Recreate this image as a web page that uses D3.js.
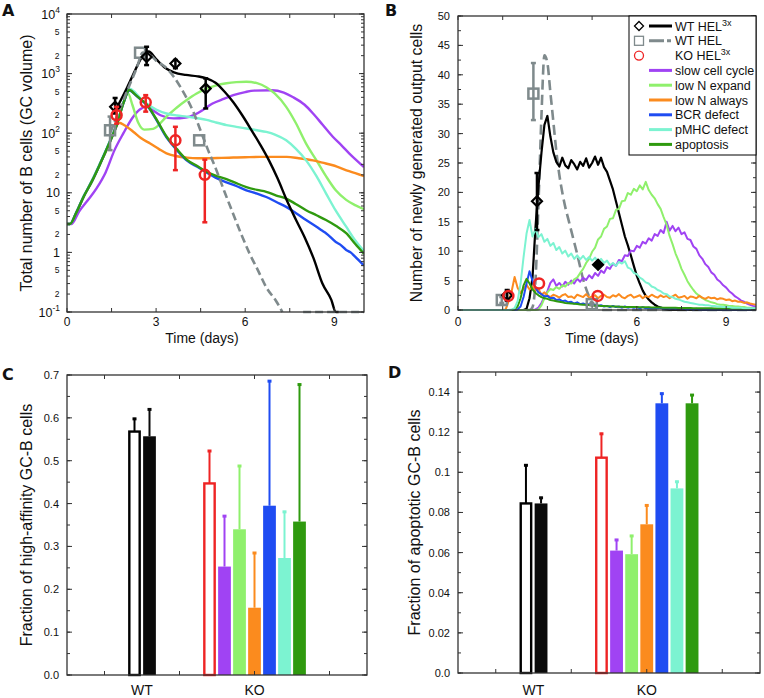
<!DOCTYPE html>
<html><head><meta charset="utf-8">
<script src="https://cdn.jsdelivr.net/npm/d3@7"></script>
<style>
body{margin:0;background:#fff;}
svg{display:block;font-family:"Liberation Sans",Arial,sans-serif;}
</style></head><body>
<svg id="c" width="764" height="698"></svg>
<script>
// ---------------- DATA ----------------
const seriesNames = ["slow cell cycle","low N expand","low N always","BCR defect","pMHC defect","apoptosis"];

// Panel A: total number of B cells (t in days, value)
const aPurple = [[0,3],[0.15,3],[0.4,4.8],[0.7,7.5],[1.0,12],[1.3,22],[1.6,52],[1.9,100],[2.2,180],[2.45,250],[2.68,277],[2.9,240],[3.15,200],[3.6,177],[4.0,183],[4.3,205],[4.6,250],[4.9,315],[5.3,380],[5.6,435],[6.0,490],[6.3,518],[6.9,525],[7.3,480],[7.6,405],[8.0,300],[8.3,210],[8.6,140],[8.95,87],[9.25,62],[9.5,46],[9.75,35],[10,27]];
const aGreen = [[0,3],[0.1,3],[0.3,4.5],[0.56,8.6],[0.85,16],[1.12,31],[1.4,65],[1.68,144],[1.9,320],[2.05,470],[2.2,300],[2.4,150],[2.6,115],[2.9,118],[3.35,190],[3.7,270],[4.03,360],[4.35,460],[4.7,560],[5.0,630],[5.37,690],[5.7,720],[6.04,730],[6.4,690],[6.71,590],[7.0,460],[7.38,277],[7.7,150],[8.05,67],[8.4,35],[8.72,19],[9.05,11],[9.4,7.6],[9.7,6.2],[10,5.3]];
const aOrange = [[0,3],[0.1,3],[0.3,4.5],[0.56,8.6],[0.85,16],[1.12,31],[1.4,62],[1.6,110],[1.75,150],[1.95,135],[2.24,105],[2.5,82],[2.8,67],[3.1,54],[3.35,46],[3.7,41],[4.03,39],[4.4,38],[4.7,38],[5.2,38.5],[5.6,39],[6.0,39.5],[6.5,40],[7.0,40],[7.4,40],[7.8,38],[8.28,35],[8.6,32],[8.95,29],[9.5,23],[10,19]];
const aBlue = [[0,3],[0.1,3],[0.3,4.5],[0.56,8.6],[0.85,16],[1.12,31],[1.4,64],[1.68,140],[1.9,320],[2.1,520],[2.3,440],[2.5,360],[2.68,300],[3.0,170],[3.35,85],[3.7,52],[4.03,35],[4.4,27],[4.7,22],[5.0,18],[5.37,15],[5.7,13],[6.04,11],[6.4,9.7],[6.71,8.5],[7.05,7],[7.38,5.8],[7.7,4.6],[8.05,3.5],[8.4,2.7],[8.6,2.3],[8.72,2.1],[9.05,1.5],[9.2,1.35],[9.4,1.1],[9.55,1.0],[9.7,0.85],[10,0.6]];
const aAqua = [[0,3],[0.1,3],[0.3,4.6],[0.56,8.8],[0.85,16.5],[1.12,32],[1.4,66],[1.68,145],[1.9,330],[2.1,560],[2.3,480],[2.5,370],[2.68,316],[3.0,250],[3.35,214],[3.7,198],[4.03,190],[4.4,178],[4.7,167],[5.0,152],[5.37,137],[5.7,128],[6.04,120],[6.4,112],[6.71,105],[7.0,95],[7.38,76],[7.7,55],[8.05,35],[8.4,19],[8.72,9.8],[9.05,5],[9.4,2.7],[9.7,1.6],[10,1.05]];
const aDGreen = [[0,3],[0.1,3],[0.3,4.5],[0.56,8.6],[0.85,16],[1.12,31],[1.4,64],[1.68,140],[1.9,320],[2.1,530],[2.3,445],[2.5,365],[2.68,305],[3.0,175],[3.35,88],[3.7,54],[4.03,36],[4.4,28],[4.7,22.5],[5.0,19.5],[5.37,17],[5.7,14.5],[6.04,12.5],[6.4,11.2],[6.71,10.4],[7.05,9],[7.38,8],[7.7,6.5],[8.05,5.1],[8.4,4.2],[8.72,3.5],[9.05,2.8],[9.4,2.1],[9.7,1.4],[10,0.95]];
const aWT3x = [[1.65,250],[2.0,550],[2.3,1150],[2.55,2000],[2.75,2350],[3.0,1750],[3.3,1250],[3.6,1050],[4.0,950],[4.4,900],[4.7,830],[5.0,700],[5.3,500],[5.6,330],[5.9,200],[6.2,115],[6.5,65],[6.8,35],[7.1,17],[7.4,7.5],[7.7,3.6],[8.0,1.8],[8.3,0.8],[8.6,0.3],[8.9,0.16],[9.05,0.1],[9.15,0.1]];
const aWT = [[1.45,100],[1.8,270],[2.1,630],[2.35,1250],[2.55,2250],[2.75,2150],[3.0,1650],[3.3,1300],[3.6,880],[3.85,560],[4.05,370],[4.25,230],[4.47,120],[4.75,52],[5.03,24],[5.3,10.5],[5.59,4.5],[5.87,2.0],[6.15,0.95],[6.43,0.5],[6.71,0.26],[7.05,0.15],[7.25,0.1],[7.3,null],[7.95,0.1],[10,0.1]];

// Panel A experimental points
const wtA_t = [1.62,2.68,3.65,4.67], wtA_v = [277,1900,1480,560], wtA_lo = [214,1390,1230,260], wtA_hi = [390,2820,1690,830];
const helA_t = [1.45,2.46,4.45], helA_v = [112,2240,76], helA_lo = [52,2150,72], helA_hi = [190,2350,80];
const koA_t = [1.67,2.65,3.65,4.64], koA_v = [200,330,76,20], koA_lo = [145,230,24,3.2], koA_hi = [277,435,128,36];

// Panel B: newly generated output cells, sampled every 0.1 day from the start time
const bStart = {purple:2.6, green:2.7, orange:1.6, blue:2.0, aqua:1.8, dgreen:1.9, wt3x:2.3, wt:2.4};
const bPurple = [0.1,0.4,1.2,2.2,3.2,4.6,5.2,4.1,4.6,4.0,4.8,4.3,5.0,4.5,5.3,4.8,5.5,5.1,5.9,5.4,6.3,5.8,6.7,6.3,7.3,7.0,7.9,7.5,8.5,8.3,9.3,9.2,10.1,10.0,10.9,10.6,11.6,11.3,12.2,11.8,12.9,12.6,13.6,13.1,15.0,13.5,14.3,13.4,14.0,12.9,13.2,12.1,11.9,10.8,10.4,9.3,8.7,7.8,7.3,6.4,6.0,5.2,4.8,4.2,3.8,3.2,2.8,2.3,2.0,1.6,1.4,1.1,0.9,0.7,0.6];
const bGreen = [0.1,0.8,2.0,3.0,3.6,3.4,3.9,3.6,4.2,4.0,4.6,4.5,5.2,5.5,6.3,7.0,8.0,8.7,9.9,10.6,12.0,12.5,13.8,14.2,15.5,15.6,17.0,17.2,18.5,18.6,19.9,19.6,20.6,20.2,21.2,20.5,21.8,20.4,19.6,19.0,18.0,17.2,15.8,14.5,12.6,11.2,9.6,8.4,7.0,6.0,4.9,4.1,3.4,2.8,2.4,2.0,1.7,1.5,1.3,1.2,1.0,0.9,0.9,0.8,0.7,0.7,0.6,0.6,0.5,0.5,0.4,0.4,0.3,0.3];
const bOrange = [0.1,1.5,3.2,5.6,3.8,2.9,3.6,4.3,3.5,4.0,3.3,3.6,2.6,3.0,
  2.5,2.2,2.6,2.4,2.1,2.5,2.7,2.2,2.3,2.0, 2.6,2.4,2.2,2.7,2.1,2.3,2.5,2.0,2.4,2.6,
  2.2,2.1,2.5,2.3,2.7,2.2,2.0,2.4,2.6,2.1, 2.3,2.5,2.0,2.4,2.2,2.6,2.3,2.1,2.5,2.2,
  2.4,2.0,2.3,2.6,2.1,2.2,2.4,1.9,2.3,2.2, 2.0,2.4,2.1,1.9,2.2,2.0,2.1,1.8,2.0,1.9,
  1.7,1.8,1.5,1.6,1.4,1.4,1.2,1.3,1.1,1.0, 0.9];
const bBlue = [0.1,0.6,2.2,4.5,6.6,5.0,3.8,3.0,2.7,2.3,2.4,2.0,2.1,1.7,1.8,1.5,1.6,1.3,1.4,1.1,1.3,1.0,1.1,0.9,1.0,0.8,0.9,0.7,0.8,0.6,0.7,0.5,0.7,0.5,0.6,0.4,0.6,0.4,0.5,0.4,0.5,0.3,0.5,0.3,0.4,0.3,0.4,0.3,0.4,0.2,0.3,0.2,0.3,0.2,0.3,0.2,0.2,0.1,0.2,0.1,0.2,0.1,0.1,0.1,0.1,0.1,0.1,0.1,0.1,0.1,0.1,0.1,0.1,0.1,0.1,0.1,0.1,0.1,0.1,0.1,0.1];
const bAqua = [0.1,0.3,1.5,4.5,9,13,15.3,12.5,13.8,12.4,12.9,11.6,12.1,10.9,11.4,10.2,10.7,9.6,10.1,9.1,9.6,8.7,9.3,8.6,9.2,8.5,9.0,8.4,8.9,8.2,8.7,8.0,8.4,7.6,8.0,7.5,8.2,7.9,8.3,7.2,7.0,6.3,6.1,5.5,5.2,4.7,4.5,4.0,3.8,3.4,3.2,2.8,2.7,2.3,2.2,1.9,1.8,1.6,1.4,1.3,1.2,1.1,1.0,0.9,0.9,0.8,0.8,0.7,0.7,0.6,0.6,0.5,0.5,0.5,0.4,0.4,0.4,0.4,0.3,0.3,0.3,0.3,0.3];
const bDGreen = [0.1,0.6,2.0,4.2,5.3,4.5,3.5,2.9,2.5,2.2,2.0,1.9,1.7,1.6,1.5,1.4,1.3,1.2,1.15,1.1,1.05,1.0,0.95,0.9,0.88,0.85,0.8,0.78,0.75,0.7,0.68,0.65,0.63,0.6,0.58,0.56,0.55,0.53,0.52,0.51,0.5,0.5,0.48,0.47,0.46,0.45,0.44,0.43,0.42,0.41,0.4,0.4,0.39,0.38,0.37,0.36,0.35,0.34,0.33,0.32,0.31,0.3,0.3,0.3,0.29,0.28,0.28,0.27,0.26,0.26,0.25,0.25,0.24,0.24,0.23,0.23,0.22,0.22,0.21,0.21,0.2,0.2];
const bWT3x = [0.2,2,5.5,14,21,26.7,31.5,33,29.5,26.8,25.2,24.4,25.9,24.6,24.1,25.5,24.8,23.9,25.2,24.5,25.8,24.2,25.0,26.1,24.7,25.9,24.3,23.5,22,20.5,18.5,16.5,14.5,12.5,11,9.3,7.5,5.8,4.5,3.3,2.4,1.8,1.3,0.9,0.6,0.4,0.2,0.1,0];
const bWT = [0,0.5,5,18,33,43.3,42,37,32,27,23,20,17.5,15.5,13.5,11.5,9.5,7.3,5.2,3.6,2.3,1.3,0.7,0.3,0.1,0];

// Panel B experimental points
const wtB_t = [1.65,2.65,4.7], wtB_v = [2.5,18.5,7.7], wtB_lo = [1.6,13.6,7.7], wtB_hi = [3.4,23.3,7.7];
const helB_t = [1.47,2.53,4.49], helB_v = [1.7,36.8,1.0], helB_lo = [1.2,32.3,0.8], helB_hi = [2.2,42,1.2];
const koB_t = [1.69,2.72,4.69], koB_v = [2.4,4.5,2.4];

// Panels C and D: bars (WT HEL, WT HEL3x, KO HEL3x, then the six model variants)
const barGroup = ["WT","WT","KO","KO","KO","KO","KO","KO","KO"];
const cValue = [0.568,0.557,0.447,0.253,0.340,0.157,0.395,0.273,0.358];
const cUpper = [0.600,0.622,0.525,0.373,0.490,0.287,0.688,0.383,0.680];
const dValue = [0.0845,0.0845,0.1073,0.061,0.0592,0.0741,0.1344,0.092,0.1344];
const dUpper = [0.104,0.0878,0.1197,0.0668,0.0688,0.084,0.1397,0.0958,0.139];
const groupPos = {WT:1, KO:2.5};
const cYTicks = [0,0.1,0.2,0.3,0.4,0.5,0.6,0.7];
const dYTicks = [0,0.02,0.04,0.06,0.08,0.1,0.12,0.14];
const dYLabels = ["0.0","0.02","0.04","0.06","0.08","0.1","0.12","0.14"];
const timeTicks = [0,3,6,9];

// ---------------- STYLE ----------------
const col = {purple:"#a043f3", green:"#8ff06c", orange:"#fb8b1e", blue:"#1f4cf2", aqua:"#7cf3d1", dgreen:"#2f9a0f", red:"#ee2424", grey:"#7f8a8c", black:"#000"};
const seriesCols = [col.purple,col.green,col.orange,col.blue,col.aqua,col.dgreen];
const barFill = ["#fff","#0a0a0a","#fff",col.purple,col.green,col.orange,col.blue,col.aqua,col.dgreen];
const barStroke = ["#000","#0a0a0a",col.red,col.purple,col.green,col.orange,col.blue,col.aqua,col.dgreen];
const barOpen = [true,false,true,false,false,false,false,false,false];

const svg = d3.select("#c");
const FR = "#333";

function box(x0,y0,x1,y1){
  svg.append("rect").attr("x",x0).attr("y",y0).attr("width",x1-x0).attr("height",y1-y0)
    .attr("fill","none").attr("stroke",FR).attr("stroke-width",1.3);
}
function xTicks(vals, sc, yb, yt, len){
  const g = svg.append("g").attr("stroke",FR).attr("stroke-width",1);
  vals.forEach(v=>{const x=sc(v);
    g.append("line").attr("x1",x).attr("x2",x).attr("y1",yb).attr("y2",yb-len);
    g.append("line").attr("x1",x).attr("x2",x).attr("y1",yt).attr("y2",yt+len);});
}
function yTicks(vals, sc, xl, xr, len){
  const g = svg.append("g").attr("stroke",FR).attr("stroke-width",1);
  vals.forEach(v=>{const y=sc(v);
    g.append("line").attr("x1",xl).attr("x2",xl+len).attr("y1",y).attr("y2",y);
    g.append("line").attr("x1",xr).attr("x2",xr-len).attr("y1",y).attr("y2",y);});
}
function label(x,y,txt,opt={}){
  const t = svg.append("text").attr("x",x).attr("y",y).text(txt)
    .attr("font-size",opt.size||11).attr("fill",opt.fill||"#111")
    .attr("text-anchor",opt.anchor||"middle");
  if(opt.rotate) t.attr("transform",`rotate(-90,${x},${y})`);
  if(opt.family) t.attr("font-family",opt.family);
  if(opt.weight) t.attr("font-weight",opt.weight);
  return t;
}
function diamond(s){return `M0,${-s}L${s},0L0,${s}L${-s},0Z`;}
function errBar(x, y1, y2, color, w, cap){
  svg.append("line").attr("x1",x).attr("x2",x).attr("y1",y1).attr("y2",y2)
    .attr("stroke",color).attr("stroke-width",w);
  [y1,y2].forEach(y=>svg.append("line").attr("x1",x-cap).attr("x2",x+cap).attr("y1",y).attr("y2",y)
    .attr("stroke",color).attr("stroke-width",w));
}

// ---------------- PANEL A ----------------
const ax = d3.scaleLinear().domain([0,10]).range([67,364]);
const ay = d3.scaleLog().domain([0.1,1e4]).range([312,14]);
svg.append("clipPath").attr("id","clipA").append("rect").attr("x",67).attr("y",14).attr("width",297).attr("height",300);
const gA = svg.append("g").attr("clip-path","url(#clipA)");
const lineA = d3.line().defined(d=>d[1]!=null).x(d=>ax(d[0])).y(d=>ay(d[1])).curve(d3.curveMonotoneX);
[[aPurple,col.purple],[aGreen,col.green],[aOrange,col.orange],[aAqua,col.aqua],[aBlue,col.blue],[aDGreen,col.dgreen]].forEach(s=>{
  gA.append("path").attr("d",lineA(s[0])).attr("fill","none").attr("stroke",s[1]).attr("stroke-width",2.4);
});
gA.append("path").attr("d",lineA(aWT3x)).attr("fill","none").attr("stroke","#000").attr("stroke-width",2.4);
gA.append("path").attr("d",lineA(aWT)).attr("fill","none").attr("stroke",col.grey).attr("stroke-width",2.6).attr("stroke-dasharray","8,4");

box(67,14,364,312);
xTicks([0,1.5,3,4.5,6,7.5,9], ax, 312, 14, 4);
yTicks(ay.ticks(), ay, 67, 364, 3);
yTicks([0.1,1,10,100,1000,10000], ay, 67, 364, 5);
timeTicks.forEach(t=>label(ax(t),326,t,{size:12}));
[-1,0,1,2,3,4].forEach(e=>{
  const t = svg.append("text").attr("x",60).attr("y",ay(Math.pow(10,e))+4.5).attr("text-anchor","end")
    .attr("font-size",12.5).attr("fill","#111");
  if(e===0) t.text("1");
  else if(e===1) t.text("10");
  else { t.append("tspan").text("10"); t.append("tspan").attr("dy",-6).attr("font-size",8.5).text(e); }
});
ay.ticks().filter(v=>{const m=Math.round(v/Math.pow(10,Math.floor(Math.log10(v)+1e-9))); return m===2||m===5;})
  .forEach(v=>label(57,ay(v)+3,d3.format("")(Math.round(v/Math.pow(10,Math.floor(Math.log10(v)+1e-9)))),{size:8.5}));
label(202,343,"Time (days)",{size:14});
label(32,163,"Total number of B cells (GC volume)",{size:16,rotate:true});
label(2,16,"A",{size:16,anchor:"start",family:"DejaVu Sans",weight:"bold"});

// markers A
helA_t.forEach((t,i)=>{ if(helA_hi[i]/helA_lo[i]>1.15) errBar(ax(t),ay(helA_lo[i]),ay(helA_hi[i]),col.grey,2.5,2.5); });
helA_t.forEach((t,i)=>svg.append("rect").attr("x",ax(t)-5).attr("y",ay(helA_v[i])-5).attr("width",10).attr("height",10)
  .attr("fill","none").attr("stroke",col.grey).attr("stroke-width",2.5));
wtA_t.forEach((t,i)=>{ errBar(ax(t),ay(wtA_lo[i]),ay(wtA_hi[i]),"#000",2.5,2.5);
  svg.append("path").attr("d",diamond(5)).attr("transform",`translate(${ax(t)},${ay(wtA_v[i])})`)
   .attr("fill","none").attr("stroke","#000").attr("stroke-width",2.2); });
koA_t.forEach((t,i)=>{ errBar(ax(t),ay(koA_lo[i]),ay(koA_hi[i]),col.red,2.5,2.5);
  svg.append("circle").attr("cx",ax(t)).attr("cy",ay(koA_v[i])).attr("r",5)
   .attr("fill","none").attr("stroke",col.red).attr("stroke-width",2.5); });

// ---------------- PANEL B ----------------
const bx = d3.scaleLinear().domain([0,10]).range([458,756]);
const by = d3.scaleLinear().domain([0,50]).range([310,16]);
svg.append("clipPath").attr("id","clipB").append("rect").attr("x",458).attr("y",16).attr("width",298).attr("height",296);
const gB = svg.append("g").attr("clip-path","url(#clipB)");
function ptsB(start, vals, lead){
  const p = (lead ? [[0,0],[start-0.1,0]] : [[start-0.1,0]]).concat(vals.map((v,i)=>[start+i*0.1, v]));
  if(p[p.length-1][0] < 9.999) p.push([10,0]);
  return p;
}
const lineB = d3.line().x(d=>bx(d[0])).y(d=>by(d[1]));
gB.append("path").attr("d",lineB.curve(d3.curveMonotoneX)(ptsB(bStart.wt,bWT,false))).attr("fill","none").attr("stroke",col.grey).attr("stroke-width",2.6).attr("stroke-dasharray","10,5");
lineB.curve(d3.curveLinear);
gB.append("path").attr("d",lineB(ptsB(bStart.wt3x,bWT3x,false))).attr("fill","none").attr("stroke","#000").attr("stroke-width",2.2).attr("stroke-linejoin","round");
const bSeries = [[bPurple,bStart.purple,col.purple],[bGreen,bStart.green,col.green],[bOrange,bStart.orange,col.orange],
  [bBlue,bStart.blue,col.blue],[bDGreen,bStart.dgreen,col.dgreen],[bAqua,bStart.aqua,col.aqua]];
bSeries.forEach(s=>gB.append("path").attr("d",lineB(ptsB(s[1],s[0],true))).attr("fill","none").attr("stroke",s[2]).attr("stroke-width",2).attr("stroke-linejoin","round"));

box(458,16,756,310);
xTicks([0,1.5,3,4.5,6,7.5,9], bx, 310, 16, 4);
yTicks(d3.range(0,50.1,2.5), by, 458, 756, 3);
yTicks(d3.range(0,50.1,5), by, 458, 756, 5);
timeTicks.forEach(t=>label(bx(t),326,t,{size:12}));
d3.range(0,50.1,5).forEach(v=>label(450,by(v)+4,v,{size:11,anchor:"end"}));
label(602,343,"Time (days)",{size:14});
label(422,163,"Number of newly generated output cells",{size:15.8,rotate:true});
label(385,16,"B",{size:16,anchor:"start",family:"DejaVu Sans",weight:"bold"});

helB_t.forEach((t,i)=>{ errBar(bx(t),by(helB_lo[i]),by(helB_hi[i]),col.grey,2.5,2.5);
  svg.append("rect").attr("x",bx(t)-5).attr("y",by(helB_v[i])-5).attr("width",10).attr("height",10)
  .attr("fill","none").attr("stroke",col.grey).attr("stroke-width",2.5); });
wtB_t.forEach((t,i)=>{ if(wtB_hi[i]>wtB_lo[i]) errBar(bx(t),by(wtB_lo[i]),by(wtB_hi[i]),"#000",2.5,2.5);
  svg.append("path").attr("d",diamond(5)).attr("transform",`translate(${bx(t)},${by(wtB_v[i])})`)
   .attr("fill", wtB_hi[i]>wtB_lo[i] ? "none" : "#000").attr("stroke","#000").attr("stroke-width",2.2); });
koB_t.forEach((t,i)=>svg.append("circle").attr("cx",bx(t)).attr("cy",by(koB_v[i])).attr("r",5)
   .attr("fill","none").attr("stroke",col.red).attr("stroke-width",2.5));

// legend
const lg = svg.append("g");
lg.append("rect").attr("x",629).attr("y",16).attr("width",127).attr("height",139).attr("fill","#fff").attr("stroke","#000").attr("stroke-width",1);
const rowY = i => 26 + i*14.8;
lg.append("path").attr("d",diamond(4.5)).attr("transform",`translate(639,${rowY(0)})`).attr("fill","none").attr("stroke","#000").attr("stroke-width",1.3);
lg.append("line").attr("x1",649).attr("x2",672).attr("y1",rowY(0)).attr("y2",rowY(0)).attr("stroke","#000").attr("stroke-width",3);
lg.append("rect").attr("x",634.5).attr("y",rowY(1)-4.5).attr("width",9).attr("height",9).attr("fill","none").attr("stroke",col.grey).attr("stroke-width",1.3);
lg.append("line").attr("x1",649).attr("x2",672).attr("y1",rowY(1)).attr("y2",rowY(1)).attr("stroke",col.grey).attr("stroke-width",3).attr("stroke-dasharray","15,3,4,20");
lg.append("circle").attr("cx",639).attr("cy",rowY(2)).attr("r",4.5).attr("fill","none").attr("stroke",col.red).attr("stroke-width",1.3);
const legText = ["WT HEL","WT HEL","KO HEL"].concat(seriesNames);
legText.forEach((s,i)=>{
  const t = lg.append("text").attr("x",675).attr("y",rowY(i)+4.5).attr("font-size",12.5).attr("fill","#111");
  t.append("tspan").text(s);
  if(i===0||i===2) t.append("tspan").attr("dy",-5).attr("font-size",9).text("3x");
  if(i>=3) lg.append("line").attr("x1",649).attr("x2",672).attr("y1",rowY(i)).attr("y2",rowY(i)).attr("stroke",seriesCols[i-3]).attr("stroke-width",3);
});

// ---------------- BAR PANELS ----------------
function barPanel(xr, yr, yDomain, values, uppers, ticks, tickLabels, minorStep, lblX, ylabel, letter, letterPos){
  const x = d3.scaleLinear().domain([0,4]).range(xr);
  const y = d3.scaleLinear().domain(yDomain).range(yr);
  const unit = x(1)-x(0);
  const counts = {}; barGroup.forEach(g=>counts[g]=(counts[g]||0)+1);
  const idx = {};
  values.forEach((v,i)=>{
    const g = barGroup[i]; idx[g]=(idx[g]||0); const j = idx[g]++;
    const cx = x(groupPos[g] + (j-(counts[g]-1)/2)*0.2);
    const bw = 0.17*unit;
    svg.append("line").attr("x1",cx).attr("x2",cx).attr("y1",y(v)).attr("y2",y(uppers[i])).attr("stroke",barStroke[i]).attr("stroke-width",2);
    svg.append("line").attr("x1",cx-2).attr("x2",cx+2).attr("y1",y(uppers[i])+1).attr("y2",y(uppers[i])+1).attr("stroke",barStroke[i]).attr("stroke-width",3);
    if(barOpen[i]){
      svg.append("rect").attr("x",cx-bw/2+1.2).attr("y",y(v)).attr("width",bw-2.4).attr("height",y(0)-y(v))
        .attr("fill","#fff").attr("stroke",barStroke[i]).attr("stroke-width",2.4);
    } else {
      svg.append("rect").attr("x",cx-bw/2).attr("y",y(v)).attr("width",bw).attr("height",y(0)-y(v)).attr("fill",barFill[i]);
    }
  });
  box(xr[0],yr[1],xr[1],yr[0]);
  xTicks([0.5,1.5,2.5,3.5], x, yr[0], yr[1], 4);
  yTicks(d3.range(yDomain[0],yDomain[1]+1e-9,minorStep), y, xr[0], xr[1], 3);
  yTicks(ticks, y, xr[0], xr[1], 5);
  ticks.forEach((v,i)=>label(lblX,y(v)+4,tickLabels[i],{size:11,anchor:"end"}));
  Object.keys(groupPos).forEach(g=>label(x(groupPos[g]),695,g,{size:14}));
  label(ylabel[0],(yr[0]+yr[1])/2,ylabel[1],{size:16,rotate:true});
  label(letterPos[0],letterPos[1],letter,{size:16,anchor:"start",family:"DejaVu Sans",weight:"bold"});
}
barPanel([67,367],[675,375],[0,0.7],cValue,cUpper,cYTicks,cYTicks.map(d3.format(".1f")),0.05,59,[32,"Fraction of high-affinity GC-B cells"],"C",[2,380]);
barPanel([458,760],[673,372],[0,0.15],dValue,dUpper,dYTicks,dYLabels,0.01,450,[420,"Fraction of apoptotic GC-B cells"],"D",[388,378]);
</script>
</body></html>
